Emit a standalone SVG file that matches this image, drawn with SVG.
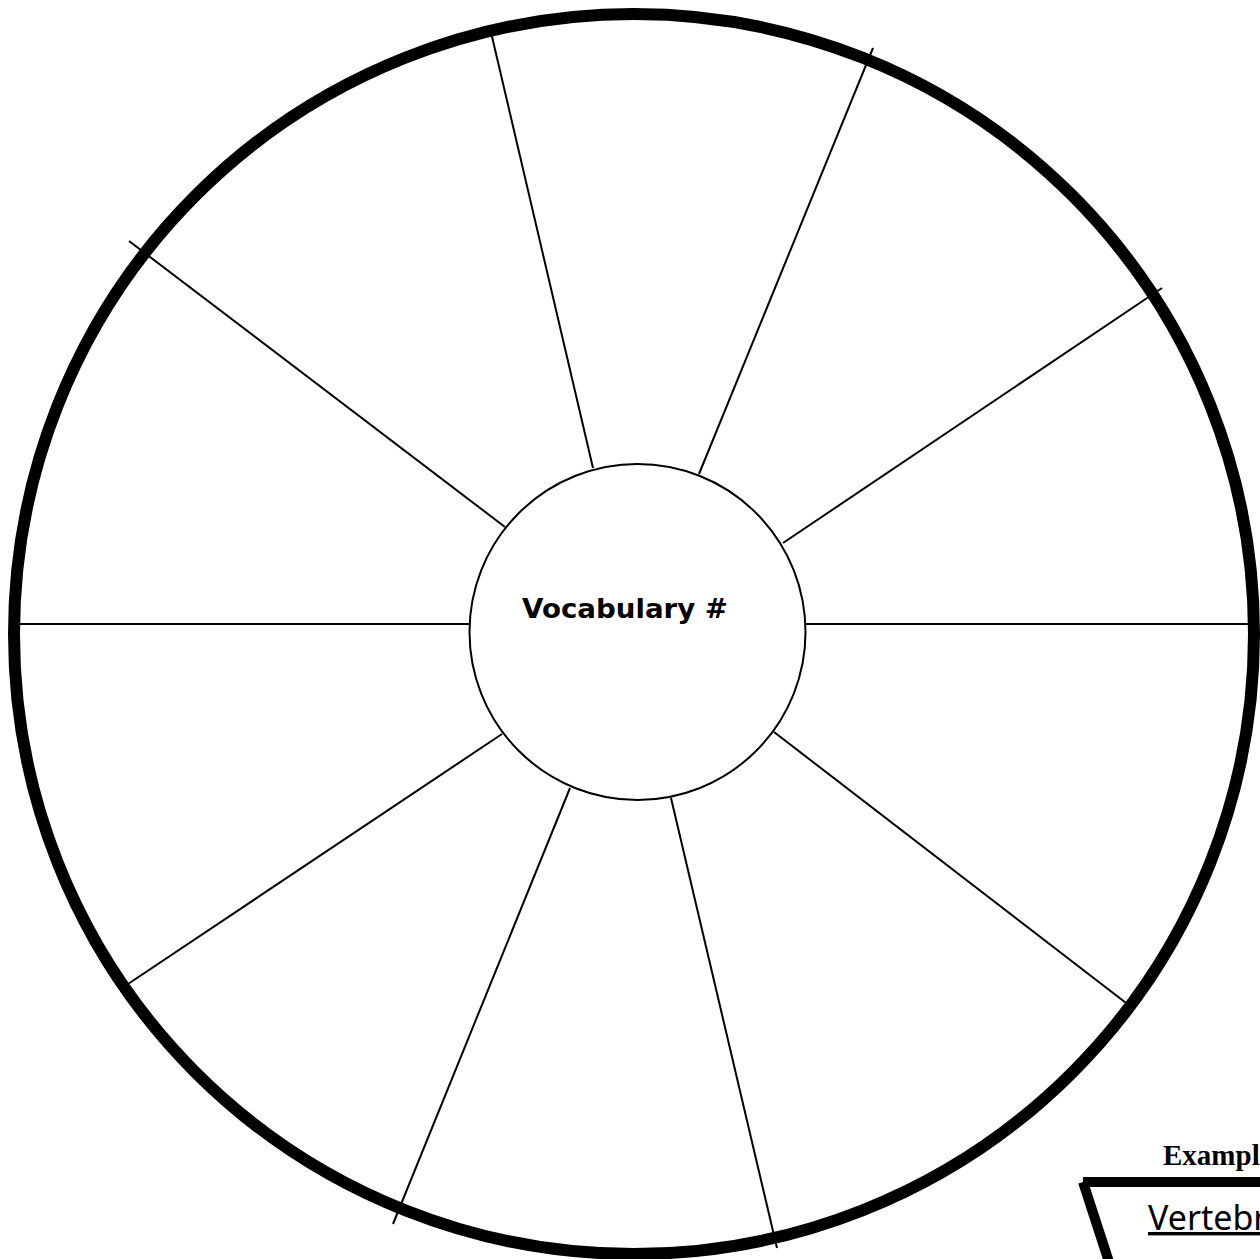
<svg xmlns="http://www.w3.org/2000/svg" width="1260" height="1259" viewBox="0 0 1260 1259">
<style>
.spoke{stroke:#000;stroke-width:2;fill:none}
.outer{stroke:#000;stroke-width:12;fill:none}
.inner{stroke:#000;stroke-width:2;fill:#fff}
.lbl{font-family:"DejaVu Sans","Liberation Sans",sans-serif;font-weight:bold;font-size:27px;fill:#000}
</style>
<rect width="1260" height="1259" fill="#fff"/>
<g id="connectors">
<line class="spoke" x1="490" y1="28" x2="593" y2="468"/>
<line class="spoke" x1="873" y1="48" x2="699" y2="474"/>
<line class="spoke" x1="1162" y1="288" x2="783" y2="543"/>
<line class="spoke" x1="806" y1="624" x2="1254" y2="624"/>
<line class="spoke" x1="774" y1="732" x2="1130" y2="1006"/>
<line class="spoke" x1="671" y1="798" x2="777" y2="1248"/>
<line class="spoke" x1="570" y1="788" x2="393" y2="1224"/>
<line class="spoke" x1="502" y1="734" x2="125" y2="986"/>
<line class="spoke" x1="14" y1="624" x2="469" y2="624"/>
<line class="spoke" x1="505" y1="527" x2="129" y2="241"/>
</g>
<g id="outer-ring">
<circle class="outer" cx="634" cy="634" r="620"/>
</g>
<g id="center">
<circle class="inner" cx="637.5" cy="632" r="168"/>
<text class="lbl" x="522" y="618" textLength="206" lengthAdjust="spacingAndGlyphs">Vocabulary #</text>
</g>
<g id="example">
<text x="1163" y="1165" font-family="Liberation Serif,serif" font-weight="bold" font-size="29">Example</text>
<path d="M1083,1182 L1275,1182 M1083,1182 L1110,1265" stroke="#000" stroke-width="10" fill="none" stroke-linejoin="miter"/>
<text x="1148" y="1230" font-family="Noto Sans,sans-serif" font-size="34" text-decoration="underline">Vertebrate</text>
</g>
</svg>
